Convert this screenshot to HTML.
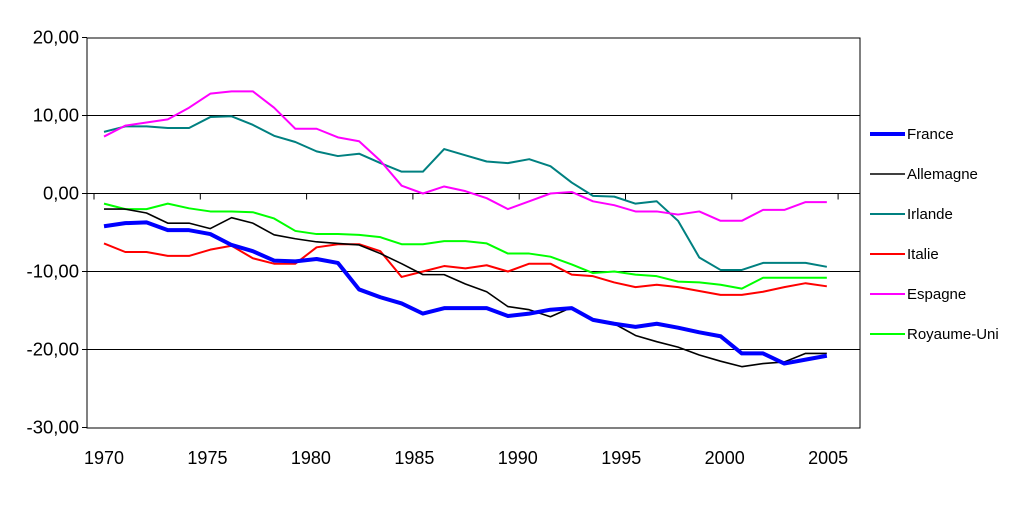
<!DOCTYPE html>
<html><head><meta charset="utf-8"><style>
body{margin:0;background:#fff;width:1018px;height:500px;overflow:hidden}
svg{font-family:"Liberation Sans",Arial,sans-serif}
</style></head><body>
<svg id="c" width="1018" height="500"></svg>
<script>
const years=[];for(let y=1970;y<=2004;y++)years.push(y);
const france=[-4.2,-3.8,-3.7,-4.7,-4.7,-5.2,-6.6,-7.4,-8.6,-8.7,-8.4,-8.9,-12.3,-13.3,-14.1,-15.4,-14.7,-14.7,-14.7,-15.7,-15.4,-14.9,-14.7,-16.2,-16.7,-17.1,-16.7,-17.2,-17.8,-18.3,-20.5,-20.5,-21.8,-21.3,-20.8];
const allemagne=[-2.0,-2.0,-2.5,-3.8,-3.8,-4.5,-3.1,-3.8,-5.3,-5.8,-6.2,-6.4,-6.6,-7.7,-9.0,-10.4,-10.4,-11.6,-12.6,-14.5,-14.9,-15.8,-14.6,-16.3,-16.7,-18.2,-19.0,-19.7,-20.7,-21.5,-22.2,-21.8,-21.6,-20.5,-20.5];
const irlande=[7.9,8.6,8.6,8.4,8.4,9.8,9.9,8.8,7.4,6.6,5.4,4.8,5.1,3.9,2.8,2.8,5.7,4.9,4.1,3.9,4.4,3.5,1.4,-0.3,-0.4,-1.3,-1.0,-3.5,-8.2,-9.8,-9.8,-8.9,-8.9,-8.9,-9.4];
const italie=[-6.4,-7.5,-7.5,-8.0,-8.0,-7.2,-6.7,-8.3,-9.0,-9.0,-6.9,-6.5,-6.5,-7.4,-10.7,-10.0,-9.3,-9.6,-9.2,-10.0,-9.0,-9.0,-10.4,-10.6,-11.4,-12.0,-11.7,-12.0,-12.5,-13.0,-13.0,-12.6,-12.0,-11.5,-11.9];
const espagne=[7.3,8.7,9.1,9.5,11.0,12.8,13.1,13.1,11.0,8.3,8.3,7.2,6.7,4.2,1.0,0.0,0.9,0.3,-0.6,-2.0,-1.0,0.0,0.2,-1.0,-1.5,-2.3,-2.3,-2.7,-2.3,-3.5,-3.5,-2.1,-2.1,-1.1,-1.1];
const royaumeUni=[-1.3,-2.0,-2.0,-1.3,-1.9,-2.3,-2.3,-2.4,-3.2,-4.8,-5.2,-5.2,-5.3,-5.6,-6.5,-6.5,-6.1,-6.1,-6.4,-7.7,-7.7,-8.1,-9.1,-10.2,-10.0,-10.4,-10.6,-11.3,-11.4,-11.7,-12.2,-10.8,-10.8,-10.8,-10.8];
const yTicks=[20,10,0,-10,-20,-30];
const xTickYears=[1970,1975,1980,1985,1990,1995,2000,2005];
const seriesNames=["France","Allemagne","Irlande","Italie","Espagne","Royaume-Uni"];

const svg=document.getElementById('c');const NS='http://www.w3.org/2000/svg';
function mk(t,a,p){const e=document.createElementNS(NS,t);for(const k in a)e.setAttribute(k,a[k]);(p||svg).appendChild(e);return e;}
const L=87,R=860,T=38,B=428;
const xs=y=>104+(y-1970)*21.26;
const xl=y=>104+(y-1970)*20.69;
const ys=v=>193.5-v*7.8;
const frame=mk('rect',{x:L,y:T,width:R-L,height:B-T,fill:'none',stroke:'#000','stroke-width':1});


yTicks.forEach(v=>{
  const y=ys(v);
  if(v!==20&&v!==-30){const g=mk('line',{x1:L,x2:R,y1:y,y2:y,stroke:'#000','stroke-width':1});
  
  }
  const tk=mk('line',{x1:L-5,x2:L,y1:y,y2:y,stroke:'#000'});
  
  
  const t=mk('text',{x:79,y:y+6,'text-anchor':'end','font-size':18.5});
  t.textContent=v.toFixed(2).replace('.',',');
  
  
});
xTickYears.forEach(yr=>{
  const x=xs(yr)-10;
  const tk=mk('line',{x1:x,x2:x,y1:ys(0),y2:ys(0)+6,stroke:'#000'});
  
  
  const t=mk('text',{x:xl(yr),y:464,'text-anchor':'middle','font-size':18});
  t.textContent=yr;
  
  
});
const data=[france,allemagne,irlande,italie,espagne,royaumeUni];
const colors=['#0000ff','#000000','#008080','#ff0000','#ff00ff','#00ff00'];
const widths=[4,1.6,2,2,2,2];
const order=[2,4,5,3,1,0];
order.forEach(i=>{
  const p=mk('polyline',{points:data[i].map((v,j)=>xs(years[j])+','+ys(v)).join(' '),fill:'none',stroke:colors[i],'stroke-width':widths[i],'stroke-linejoin':'round'});
  
  
});
seriesNames.forEach((n,i)=>{
  const y=134+i*40;
  const g=mk('g',{});
  
  
  mk('line',{x1:870,x2:905,y1:y,y2:y,stroke:colors[i],'stroke-width':widths[i]},g);
  const t=mk('text',{x:907,y:y+5,'font-size':15},g);
  t.textContent=n;
});
</script>
</body></html>
